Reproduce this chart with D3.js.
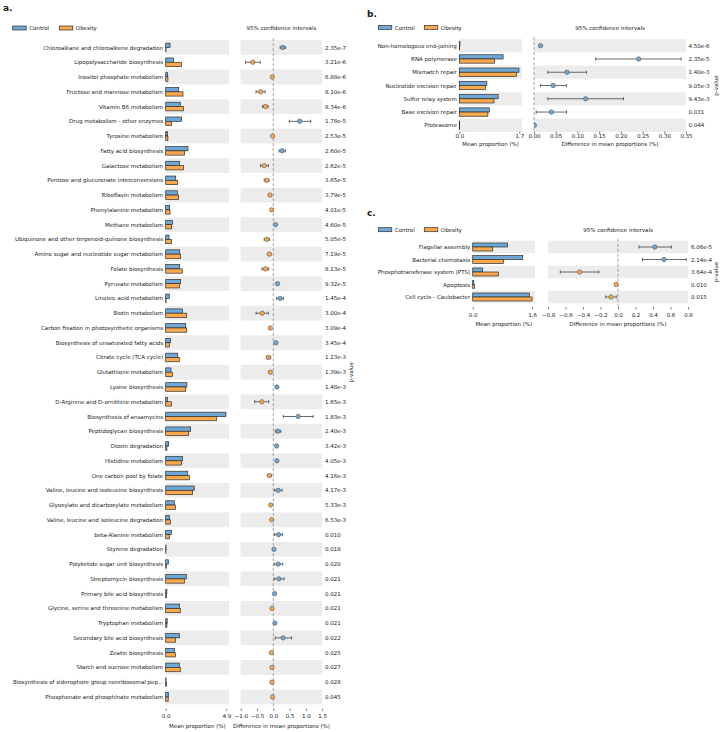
<!DOCTYPE html>
<html><head><meta charset="utf-8">
<script src="https://cdn.jsdelivr.net/npm/d3@7"></script>
<style>body{margin:0;background:#fff} text{font-family:"DejaVu Sans",sans-serif;fill:#1a1a1a}</style>
</head><body><svg id="c" width="723" height="732"></svg>
<script>
// ---------- Panel a data ----------
const categoriesA = ["Chloroalkane and chloroalkene degradation","Lipopolysaccharide biosynthesis","Inositol phosphate metabolism","Fructose and mannose metabolism","Vitamin B6 metabolism","Drug metabolism - other enzymes","Tyrosine metabolism","Fatty acid biosynthesis","Galactose metabolism","Pentose and glucuronate interconversions","Riboflavin metabolism","Phenylalanine metabolism","Methane metabolism","Ubiquinone and other terpenoid-quinone biosynthesis","Amino sugar and nucleotide sugar metabolism","Folate biosynthesis","Pyruvate metabolism","Linoleic acid metabolism","Biotin metabolism","Carbon fixation in photosynthetic organisms","Biosynthesis of unsaturated fatty acids","Citrate cycle (TCA cycle)","Glutathione metabolism","Lysine biosynthesis","D-Arginine and D-ornithine metabolism","Biosynthesis of ansamycins","Peptidoglycan biosynthesis","Dioxin degradation","Histidine metabolism","One carbon pool by folate","Valine, leucine and isoleucine biosynthesis","Glyoxylate and dicarboxylate metabolism","Valine, leucine and isoleucine degradation","beta-Alanine metabolism","Styrene degradation","Polyketide sugar unit biosynthesis","Streptomycin biosynthesis","Primary bile acid biosynthesis","Glycine, serine and threonine metabolism","Tryptophan metabolism","Secondary bile acid biosynthesis","Zeatin biosynthesis","Starch and sucrose metabolism","Biosynthesis of siderophore group nonribosomal pep...","Phosphonate and phosphinate metabolism"];
const controlA = [0.35,0.62,0.16,1.05,1.18,1.29,0.15,1.80,1.13,0.81,0.94,0.32,0.54,0.27,1.13,1.13,1.21,0.29,1.37,1.62,0.40,0.97,0.43,1.72,0.13,4.87,2.02,0.24,1.37,1.78,2.31,0.70,0.29,0.46,0.03,0.21,1.67,0.10,1.13,0.12,1.10,0.70,1.10,0.03,0.21];
const obesityA = [0.03,1.29,0.18,1.40,1.45,0.46,0.18,1.53,1.45,0.97,1.05,0.35,0.48,0.48,1.21,1.34,1.10,0.03,1.70,1.70,0.29,1.10,0.54,1.62,0.48,4.12,1.86,0.10,1.29,1.91,2.18,0.78,0.37,0.29,0.02,0.05,1.51,0.06,1.18,0.10,0.78,0.78,1.18,0.06,0.20];
const diffA = [0.29,-0.63,-0.03,-0.39,-0.24,0.81,-0.02,0.27,-0.28,-0.20,-0.10,-0.05,0.07,-0.20,-0.12,-0.24,0.13,0.21,-0.34,-0.09,0.08,-0.15,-0.09,0.11,-0.35,0.76,0.14,0.10,0.11,-0.12,0.15,-0.08,-0.05,0.16,0.02,0.15,0.17,0.04,-0.04,0.05,0.30,-0.06,-0.04,-0.04,-0.02];
const ciLowA = [0.21,-0.85,-0.05,-0.53,-0.33,0.49,-0.04,0.18,-0.39,-0.28,-0.14,-0.07,0.04,-0.28,-0.16,-0.35,0.10,0.10,-0.53,-0.12,0.05,-0.21,-0.13,0.08,-0.57,0.31,0.06,0.07,0.07,-0.18,0.04,-0.11,-0.07,0.04,0.00,0.03,0.03,0.02,-0.07,0.03,0.06,-0.09,-0.07,-0.06,-0.04];
const ciHighA = [0.37,-0.40,-0.01,-0.25,-0.16,1.15,0.00,0.37,-0.15,-0.13,-0.06,-0.03,0.10,-0.12,-0.08,-0.14,0.16,0.31,-0.15,-0.06,0.11,-0.08,-0.05,0.14,-0.14,1.22,0.23,0.13,0.15,-0.05,0.27,-0.05,-0.02,0.28,0.04,0.29,0.33,0.06,-0.01,0.07,0.56,-0.03,-0.01,-0.01,0.00];
const pValuesA = ["2.35e-7","3.21e-6","6.88e-6","8.10e-6","8.34e-6","1.78e-5","2.53e-5","2.60e-5","2.62e-5","3.65e-5","3.79e-5","4.01e-5","4.60e-5","5.05e-5","7.19e-5","8.13e-5","9.32e-5","1.45e-4","3.00e-4","3.09e-4","3.45e-4","1.23e-3","1.39e-3","1.48e-3","1.65e-3","1.83e-3","2.40e-3","3.42e-3","4.05e-3","4.16e-3","4.17e-3","5.33e-3","6.53e-3","0.010","0.018","0.020","0.021","0.021","0.021","0.021","0.022","0.025","0.027","0.028","0.045"];
const barTicksA = [0, 4.9];
const ciTicksA = [-1.0, -0.5, 0.0, 0.5, 1.0, 1.5];

// ---------- Panel b data ----------
const categoriesB = ["Non-homologous end-joining","RNA polymerase","Mismatch repair","Nucleotide excision repair","Sulfur relay system","Base excision repair","Proteasome"];
const controlB = [0.02,1.24,1.69,0.78,1.10,0.85,0.01];
const obesityB = [0.01,1.00,1.62,0.74,0.98,0.81,0.01];
const diffB = [0.015,0.241,0.076,0.044,0.119,0.040,0.001];
const ciLowB = [0.012,0.142,0.032,0.015,0.032,0.005,0.000];
const ciHighB = [0.018,0.339,0.121,0.075,0.206,0.075,0.002];
const pValuesB = ["4.50e-6","2.35e-5","1.40e-3","9.05e-3","9.43e-3","0.031","0.044"];
const barTicksB = [0, 1.7];
const ciTicksB = [0.00,0.05,0.10,0.15,0.20,0.25,0.30,0.35];

// ---------- Panel c data ----------
const categoriesC = ["Flagellar assembly","Bacterial chemotaxis","Phosphotransferase system (PTS)","Apoptosis","Cell cycle - Caulobacter"];
const controlC = [0.94,1.35,0.27,0.03,1.53];
const obesityC = [0.54,0.83,0.69,0.05,1.60];
const diffC = [0.42,0.525,-0.44,-0.02,-0.08];
const ciLowC = [0.24,0.28,-0.66,-0.03,-0.14];
const ciHighC = [0.61,0.78,-0.22,-0.01,-0.02];
const pValuesC = ["6.06e-5","2.14e-4","3.64e-4","0.010","0.015"];
const barTicksC = [0, 1.6];
const ciTicksC = [-0.8,-0.6,-0.4,-0.2,0.0,0.2,0.4,0.6,0.8];

const svg = d3.select('#c');
const FS = 5.5;
const BLUE = '#6fa8d6', ORANGE = '#f9a84e', BAND = '#ececec', EDGE = '#2e2e2e';
let clipId = 0;

function drawPanel(cfg, d) {
  const n = d.cats.length;
  const g = svg.append('g');
  const top = cfg.firstY - cfg.step / 2;
  const y = d3.scaleBand().domain(d3.range(n)).range([top, top + n * cfg.step]);
  const yc = i => y(i) + y.bandwidth() / 2;
  const xb = d3.scaleLinear().domain([0, cfg.barLim]).range([cfg.bx0, cfg.bx1]);
  const xc = d3.scaleLinear().domain(cfg.ciDom).range([cfg.cx0, cfg.cx1]);

  g.append('text').attr('x', cfg.lx).attr('y', cfg.ly).attr('font-size', 9).attr('font-weight', 'bold').text(cfg.label);

  [['Control', BLUE, cfg.legX1], ['Obesity', ORANGE, cfg.legX2]].forEach(([t, c, x]) => {
    g.append('rect').attr('x', x).attr('y', cfg.legY - 2).attr('width', 13.5).attr('height', 4)
      .attr('fill', c).attr('stroke', EDGE).attr('stroke-width', 0.7);
    g.append('text').attr('x', x + 16.5).attr('y', cfg.legY + 2).attr('font-size', FS).text(t);
  });
  g.append('text').attr('x', (cfg.cx0 + cfg.cx1) / 2).attr('y', cfg.legY + 2).attr('font-size', FS)
    .attr('text-anchor', 'middle').text('95% confidence intervals');

  // bands
  d3.range(n).filter(i => i % 2 === 0).forEach(i => {
    g.append('rect').attr('x', cfg.bx0).attr('y', y(i)).attr('width', cfg.bx1 - cfg.bx0).attr('height', y.bandwidth()).attr('fill', BAND);
    g.append('rect').attr('x', cfg.cx0).attr('y', y(i)).attr('width', cfg.cx1 - cfg.cx0).attr('height', y.bandwidth()).attr('fill', BAND);
  });

  // category labels
  g.selectAll('text.cat').data(d.cats).join('text').attr('class', 'cat')
    .attr('x', cfg.bx0 - 2.5).attr('y', (t, i) => yc(i) + 2).attr('font-size', FS)
    .attr('text-anchor', 'end').text(t => t);

  // bars
  const bh = cfg.barH;
  g.selectAll('rect.ctl').data(d.ctl).join('rect').attr('class', 'ctl')
    .attr('x', xb(0)).attr('y', (v, i) => yc(i) - bh).attr('width', v => xb(v) - xb(0)).attr('height', bh)
    .attr('fill', BLUE).attr('stroke', EDGE).attr('stroke-width', 0.7);
  g.selectAll('rect.obs').data(d.obs).join('rect').attr('class', 'obs')
    .attr('x', xb(0)).attr('y', (v, i) => yc(i)).attr('width', v => xb(v) - xb(0)).attr('height', bh)
    .attr('fill', ORANGE).attr('stroke', EDGE).attr('stroke-width', 0.7);

  // zero line
  g.append('line').attr('x1', xc(0)).attr('x2', xc(0)).attr('y1', top - 2).attr('y2', cfg.axisY)
    .attr('stroke', '#8a8a8a').attr('stroke-width', 0.8).attr('stroke-dasharray', '3,2');

  // CI
  const cid = 'clip' + (clipId++);
  svg.append('clipPath').attr('id', cid).append('rect').attr('x', cfg.cx0).attr('y', top - 5)
    .attr('width', cfg.cx1 - cfg.cx0).attr('height', cfg.axisY - top + 5);
  const cg = g.append('g').attr('clip-path', `url(#${cid})`);
  d.diff.forEach((v, i) => {
    const lo = d.lo[i], hi = d.hi[i], yy = yc(i);
    cg.append('line').attr('x1', xc(lo)).attr('x2', xc(hi)).attr('y1', yy).attr('y2', yy).attr('stroke', '#444').attr('stroke-width', 0.8);
    [lo, hi].forEach(e => cg.append('line').attr('x1', xc(e)).attr('x2', xc(e)).attr('y1', yy - 1.6).attr('y2', yy + 1.6).attr('stroke', '#444').attr('stroke-width', 0.8));
    cg.append('circle').attr('cx', xc(v)).attr('cy', yy).attr('r', 2.2)
      .attr('fill', v >= 0 ? BLUE : ORANGE).attr('stroke', '#555').attr('stroke-width', 0.6);
  });

  // p-values
  g.selectAll('text.pv').data(d.pv).join('text').attr('class', 'pv')
    .attr('x', cfg.px).attr('y', (t, i) => yc(i) + 2).attr('font-size', FS).text(t => t);
  g.append('text').attr('transform', `translate(${cfg.pvx},${(top + top + n * cfg.step) / 2}) rotate(-90)`)
    .attr('text-anchor', 'middle').attr('font-size', FS).text('p-value');

  // axes
  const styleAxis = (ax) => {
    ax.select('.domain').remove();
    ax.selectAll('line').attr('stroke', '#333').attr('stroke-width', 0.6);
    ax.selectAll('text').attr('font-size', FS).attr('font-family', '"DejaVu Sans",sans-serif')
      .attr('fill', '#1a1a1a').attr('dy', null).attr('y', cfg.tickLabY - cfg.axisY);
  };
  const ab = g.append('g').attr('transform', `translate(0,${cfg.axisY})`)
    .call(d3.axisBottom(xb).tickValues(d.barTicks).tickFormat(d3.format('.1f')).tickSize(2.5));
  styleAxis(ab);
  const ac = g.append('g').attr('transform', `translate(0,${cfg.axisY})`)
    .call(d3.axisBottom(xc).tickValues(d.ciTicks).tickFormat(d3.format(cfg.ciFmt)).tickSize(2.5));
  styleAxis(ac);
  g.append('text').attr('x', (cfg.bx0 + cfg.bx1) / 2).attr('y', cfg.titleY).attr('font-size', FS)
    .attr('text-anchor', 'middle').text('Mean proportion (%)');
  g.append('text').attr('x', (cfg.cx0 + cfg.cx1) / 2).attr('y', cfg.titleY).attr('font-size', FS)
    .attr('text-anchor', 'middle').text('Difference in mean proportions (%)');
}

drawPanel({label: 'a.', lx: 3, ly: 11, legX1: 12.7, legX2: 59.3, legY: 28,
  firstY: 47.5, step: 14.76, barH: 4.3, bx0: 165.7, bx1: 229, barLim: 5.12,
  cx0: 240.7, cx1: 322.2, ciDom: [-1, 1.5], ciFmt: '.1f', px: 325, pvx: 352.5,
  axisY: 708.5, tickLabY: 718, titleY: 728},
  {cats: categoriesA, ctl: controlA, obs: obesityA, diff: diffA, lo: ciLowA, hi: ciHighA, pv: pValuesA, barTicks: barTicksA, ciTicks: ciTicksA});

drawPanel({label: 'b.', lx: 367, ly: 16.5, legX1: 378.3, legX2: 424.3, legY: 27.5,
  firstY: 45.7, step: 13.27, barH: 4.2, bx0: 459.3, bx1: 522, barLim: 1.775,
  cx0: 534, cx1: 686, ciDom: [0, 0.35], ciFmt: '.2f', px: 688.5, pvx: 717.5,
  axisY: 131.5, tickLabY: 138, titleY: 146},
  {cats: categoriesB, ctl: controlB, obs: obesityB, diff: diffB, lo: ciLowB, hi: ciHighB, pv: pValuesB, barTicks: barTicksB, ciTicks: ciTicksB});

drawPanel({label: 'c.', lx: 367, ly: 216, legX1: 378.3, legX2: 424.3, legY: 229.7,
  firstY: 247, step: 12.5, barH: 4.0, bx0: 472.7, bx1: 535, barLim: 1.68,
  cx0: 548, cx1: 688, ciDom: [-0.8, 0.8], ciFmt: '.1f', px: 691, pvx: 717.5,
  axisY: 307, tickLabY: 317, titleY: 325.7},
  {cats: categoriesC, ctl: controlC, obs: obesityC, diff: diffC, lo: ciLowC, hi: ciHighC, pv: pValuesC, barTicks: barTicksC, ciTicks: ciTicksC});
</script></body></html>
